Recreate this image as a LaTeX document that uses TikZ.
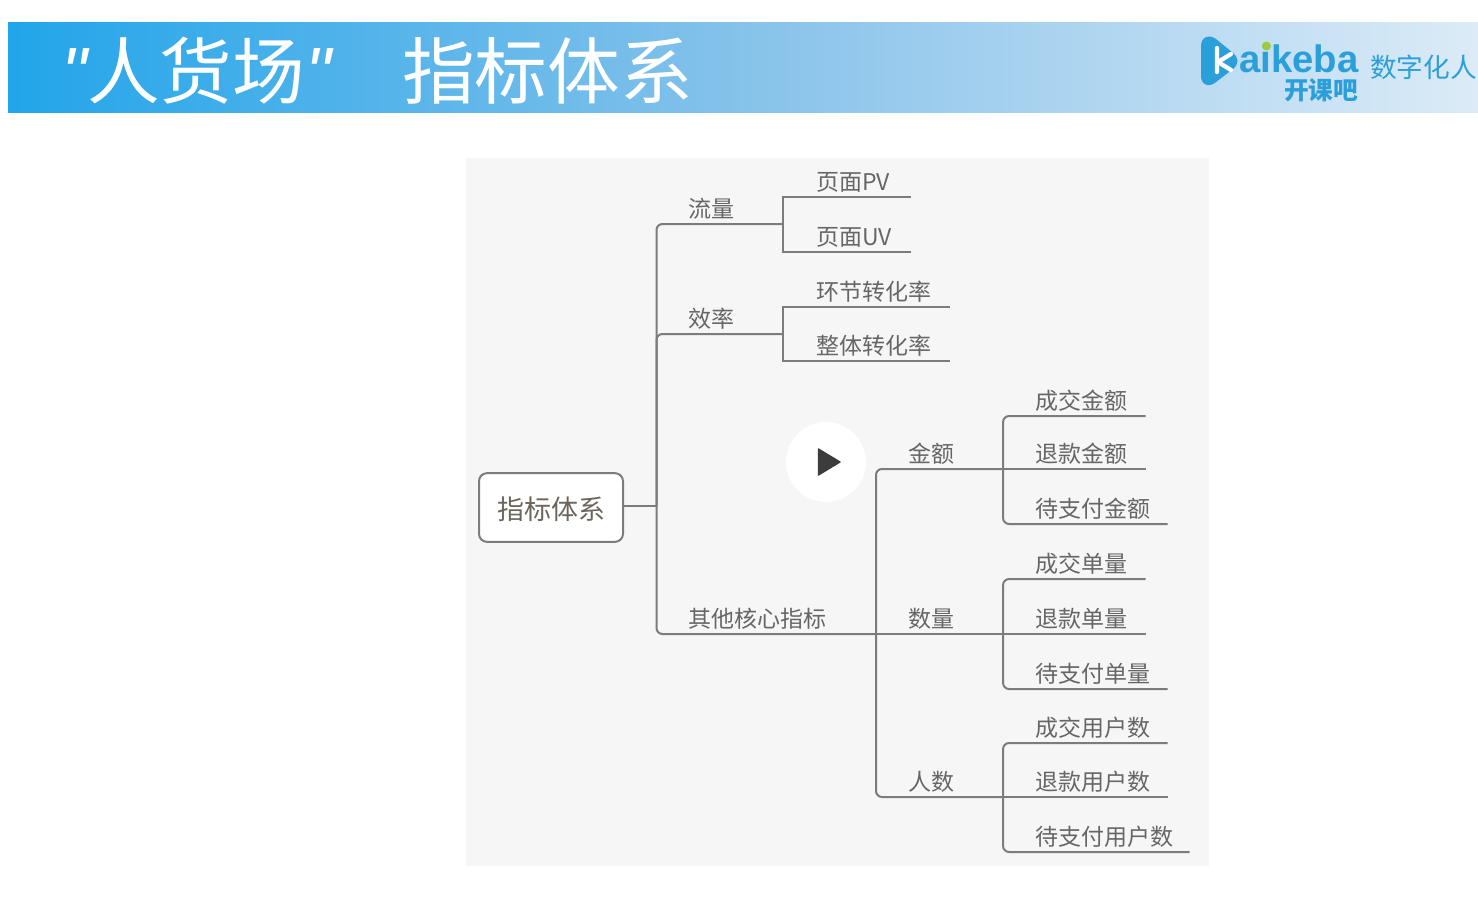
\documentclass[tikz,border=0pt]{standalone}
\usepackage{fontspec}
\setmainfont{Noto Sans CJK SC}
\newfontfamily\quotefont{Liberation Sans}
\newcommand{\fs}[1]{\fontsize{#1}{#1}\selectfont}
\newcommand{\wbox}[2]{\makebox[#1pt][l]{#2}}
\definecolor{linegray}{HTML}{7C7C7C}
\definecolor{txtgray}{HTML}{666666}
\definecolor{logoblue}{HTML}{2B9FDA}
\definecolor{HeaderL}{HTML}{22A5EA}
\definecolor{HeaderM}{HTML}{86C2EA}
\definecolor{HeaderR}{HTML}{DCEBF7}
\definecolor{HeaderDot}{HTML}{9CCB3B}
\definecolor{HeaderT}{HTML}{6B655C}
\definecolor{PlayDark}{HTML}{3C3C3C}
\definecolor{PanelGray}{HTML}{F6F6F6}
\tikzset{
  x=0.75pt,y=-0.75pt,
  conn/.style={draw=linegray,line width=1.5pt},
  roundconn/.style={conn,rounded corners=4.5pt},
  lab/.style={anchor=south west,inner sep=0pt,text=txtgray,text height=15pt,text depth=5pt,font=\fs{17.25}},
  ttl/.style={anchor=west,inner sep=0pt,text=white,font=\fs{54.5}},
}
\begin{document}
\begin{tikzpicture}
\useasboundingbox (0,0) rectangle (1478,910);
\fill[white] (0,0) rectangle (1478,910);
% header band
\shade[left color=HeaderL,right color=HeaderR,middle color=HeaderM] (8,22) rectangle (1478,112);
\node[ttl] (title1) at (61,71) {{\quotefont\itshape "}人货场{\quotefont\itshape "}};
\node[ttl] (title2) at (402,71) {指标体系};
% logo
\fill[logoblue] (1201,46) .. controls (1201,37) and (1209,34) .. (1216,39) -- (1233,53) .. controls (1239,58) and (1239,64) .. (1233,69) -- (1216,82) .. controls (1209,88) and (1201,85) .. (1201,76) -- cycle;
\draw[white,line width=3.2pt,line cap=round,line join=round] (1217,48) -- (1217,72) (1231,54) -- (1218,62) -- (1231,70);
\node[anchor=base west,inner sep=0pt,text=logoblue,font=\quotefont\bfseries\fs{28.7}] (logo) at (1239,72) {aikeba};
\fill[HeaderDot] (1266.5,46) circle (4.5);
\node[anchor=west,inner sep=0pt,text=logoblue,font=\bfseries\fs{18.5}] (logocn) at (1284,90) {开课吧};
\node[anchor=west,inner sep=0pt,text=logoblue,font=\fs{20}] (logotag) at (1370,67) {数字化人};
% panel
\fill[PanelGray] (466,158) rectangle (1209,866);
% tree
\node[draw=linegray,line width=1.5pt,fill=white,rounded corners=6pt,minimum width=108pt,minimum height=51.5pt,inner sep=0pt,text=HeaderT,font=\fs{20.25},text height=20pt,text depth=2.4pt] (root) at (551,507.5) {指标体系};
\coordinate (trunk) at (656.5,506);
\node[lab] (a1) at (688,224) {\wbox{70.9}{流量}};
\node[lab] (a2) at (688,334) {\wbox{70.9}{效率}};
\node[lab] (a3) at (688,634) {\wbox{140.6}{其他核心指标}};
\node[lab] (p1) at (816,197) {\wbox{70.5}{页面PV}};
\node[lab] (p2) at (816,252) {\wbox{70.5}{页面UV}};
\node[lab] (e1) at (816,307) {\wbox{99.75}{环节转化率}};
\node[lab] (e2) at (816,361) {\wbox{99.75}{整体转化率}};
\node[lab] (b1) at (908,469) {\wbox{70.9}{金额}};
\node[lab] (b2) at (908,634) {\wbox{70.9}{数量}};
\node[lab] (b3) at (908,797) {\wbox{70.9}{人数}};
\node[lab] (c1) at (1035,416) {\wbox{82.5}{成交金额}};
\node[lab] (c2) at (1035,469) {\wbox{82.5}{退款金额}};
\node[lab] (c3) at (1035,524) {\wbox{99}{待支付金额}};
\node[lab] (d1) at (1035,579) {\wbox{82.5}{成交单量}};
\node[lab] (d2) at (1035,634) {\wbox{82.5}{退款单量}};
\node[lab] (d3) at (1035,689) {\wbox{99}{待支付单量}};
\node[lab] (f1) at (1035,743) {\wbox{99}{成交用户数}};
\node[lab] (f2) at (1035,797) {\wbox{99}{退款用户数}};
\node[lab] (f3) at (1035,852) {\wbox{115.5}{待支付用户数}};
\draw[conn] (root.east |- trunk) -- (trunk);
\draw[roundconn] (trunk) |- (a1.south east);
\draw[roundconn] (trunk) |- (a2.south east);
\draw[roundconn] (trunk) |- (a3.south east);
\draw[conn] (p1.south east) -| (a1.south east) |- (p2.south east);
\draw[conn] (e1.south east) -| (a2.south east) |- (e2.south east);
\draw[roundconn] (a3.south east) |- (b1.south east);
\draw[conn] (a3.south east) -- (b2.south east);
\draw[roundconn] (a3.south east) |- (b3.south east);
\draw[roundconn] (b1.south east) |- (c1.south east);
\draw[conn] (b1.south east) -- (c2.south east);
\draw[roundconn] (b1.south east) |- (c3.south east);
\draw[roundconn] (b2.south east) |- (d1.south east);
\draw[conn] (b2.south east) -- (d2.south east);
\draw[roundconn] (b2.south east) |- (d3.south east);
\draw[roundconn] (b3.south east) |- (f1.south east);
\draw[conn] (b3.south east) -- (f2.south east);
\draw[roundconn] (b3.south east) |- (f3.south east);
% play button
\fill[white] (826,462) circle (40);
\fill[PlayDark,draw=PlayDark,line width=1pt,line join=round] (818.5,449) -- (840,462) -- (818.5,475) -- cycle;
\end{tikzpicture}
\end{document}
